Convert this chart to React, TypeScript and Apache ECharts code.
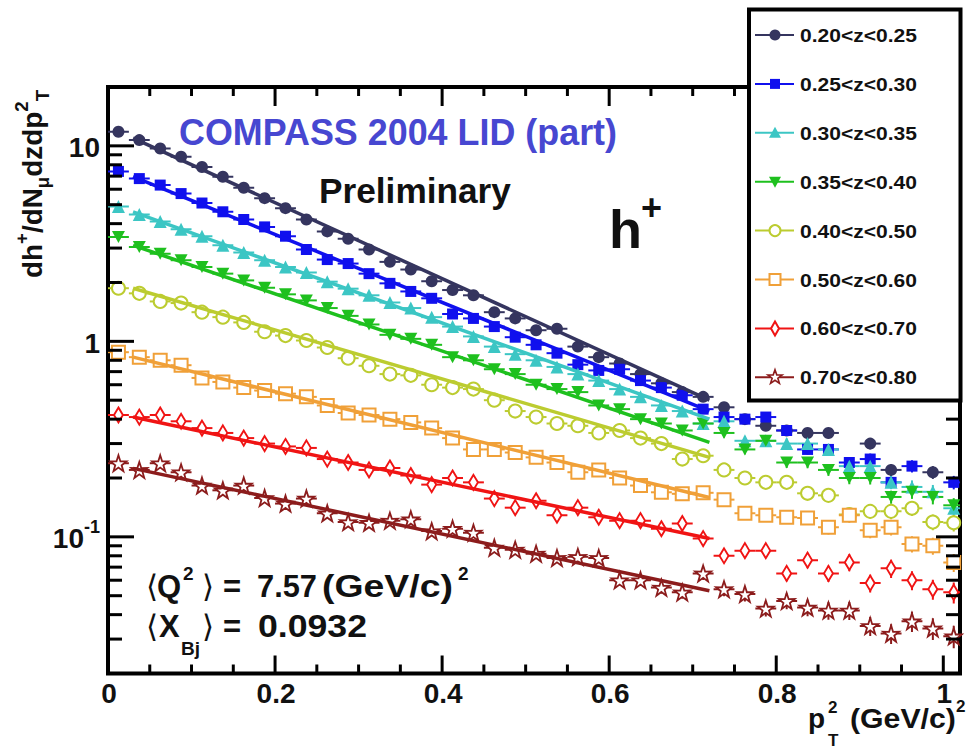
import React, { useEffect, useRef } from 'react';
import * as echarts from 'echarts';

// p_T^2 bin centres in (GeV/c)^2 (bins 0.025 wide)
const binCenters = [
  0.0125, 0.0375, 0.0625, 0.0875, 0.1125, 0.1375, 0.1625, 0.1875, 0.2125, 0.2375,
  0.2625, 0.2875, 0.3125, 0.3375, 0.3625, 0.3875, 0.4125, 0.4375, 0.4625, 0.4875,
  0.5125, 0.5375, 0.5625, 0.5875, 0.6125, 0.6375, 0.6625, 0.6875, 0.7125, 0.7375,
  0.7625, 0.7875, 0.8125, 0.8375, 0.8625, 0.8875, 0.9125, 0.9375, 0.9625, 0.9875, 1.0125,
];
const binHalfWidth = 0.0125;

const zBins = [
  '0.20<z<0.25', '0.25<z<0.30', '0.30<z<0.35', '0.35<z<0.40',
  '0.40<z<0.50', '0.50<z<0.60', '0.60<z<0.70', '0.70<z<0.80',
];
const colors = ['#35355f', '#1010ee', '#3cc6c4', '#1ec01e', '#bccc30', '#f0a038', '#f01414', '#8c1c1c'];

// dh+/dN_mu dz dpT^2 per bin, one array per z bin
const z020 = [11.8, 10.7, 9.7, 8.8, 7.8, 6.95, 6.1, 5.4, 4.8, 4.2, 3.65, 3.35, 2.95, 2.55, 2.33, 2.03, 1.83, 1.72, 1.41, 1.31, 1.14, 1.16, 0.94, 0.83, 0.77, 0.68, 0.61, 0.55, 0.52, 0.46, 0.40, 0.37, 0.35, 0.34, 0.34, null, 0.30, 0.22, null, 0.214, null];
const z025 = [7.4, 6.8, 6.3, 5.7, 5.1, 4.6, 4.2, 3.85, 3.45, 2.95, 2.62, 2.5, 2.22, 1.98, 1.80, 1.66, 1.38, 1.31, 1.19, 1.05, 0.96, 0.87, 0.76, 0.71, 0.72, 0.63, 0.58, 0.53, 0.45, 0.41, 0.40, 0.41, 0.35, 0.28, 0.28, 0.24, 0.25, 0.19, 0.23, null, 0.19];
const z030 = [4.9, 4.45, 4.1, 3.75, 3.45, 3.1, 2.85, 2.6, 2.4, 2.25, 2.02, 1.86, 1.72, 1.58, 1.48, 1.33, 1.19, 1.06, 0.94, 0.86, 0.80, 0.74, 0.68, 0.63, 0.57, 0.52, 0.47, 0.44, 0.38, 0.39, 0.31, 0.31, 0.30, 0.30, 0.28, 0.23, 0.23, 0.19, 0.18, 0.17, 0.14];
const z035 = [3.42, 3.04, 2.81, 2.6, 2.40, 2.22, 2.05, 1.88, 1.74, 1.62, 1.48, 1.35, 1.22, 1.08, 1.03, 0.96, 0.83, 0.80, 0.72, 0.68, 0.60, 0.57, 0.55, 0.47, 0.45, 0.40, 0.38, 0.35, 0.38, 0.34, 0.28, 0.31, 0.24, 0.24, 0.22, 0.20, 0.20, 0.16, 0.17, 0.16, 0.145];
const z040 = [1.87, 1.76, 1.60, 1.57, 1.41, 1.33, 1.25, 1.12, 1.07, 1.01, 0.93, 0.82, 0.75, 0.68, 0.67, 0.60, 0.58, 0.57, 0.50, 0.44, 0.41, 0.38, 0.37, 0.34, 0.35, 0.32, 0.30, 0.25, 0.26, 0.22, 0.20, 0.19, 0.19, 0.167, 0.163, 0.13, 0.135, 0.135, 0.14, 0.119, 0.118];
const z050 = [0.88, 0.83, 0.80, 0.755, 0.65, 0.62, 0.58, 0.56, 0.54, 0.52, 0.47, 0.43, 0.42, 0.40, 0.385, 0.36, 0.32, 0.28, 0.28, 0.27, 0.255, 0.24, 0.214, 0.22, 0.20, 0.183, 0.169, 0.166, 0.168, 0.155, 0.132, 0.129, 0.126, 0.125, 0.112, 0.129, 0.108, 0.112, 0.092, 0.090, 0.074];
const z060 = [0.42, 0.41, 0.42, 0.39, 0.36, 0.34, 0.32, 0.30, 0.29, 0.285, 0.25, 0.24, 0.22, 0.225, 0.206, 0.185, 0.20, 0.19, 0.157, 0.141, 0.153, 0.129, 0.141, 0.126, 0.121, 0.121, 0.11, 0.117, 0.098, 0.080, 0.085, 0.085, 0.065, 0.076, 0.065, 0.074, 0.058, 0.069, 0.060, 0.054, 0.052];
const z070 = [0.238, 0.22, 0.238, 0.214, 0.183, 0.173, 0.183, 0.158, 0.148, 0.157, 0.132, 0.119, 0.118, 0.121, 0.123, 0.107, 0.11, 0.105, 0.088, 0.086, 0.082, 0.078, 0.079, 0.078, 0.060, 0.060, 0.055, 0.052, 0.065, 0.054, 0.051, 0.043, 0.047, 0.0435, 0.042, 0.042, 0.035, 0.032, 0.037, 0.034, 0.031];

// relative statistical error per bin, and per z-bin weight on it
const relErr = [0.015, 0.015, 0.015, 0.015, 0.016, 0.016, 0.017, 0.017, 0.018, 0.019, 0.02, 0.021, 0.022, 0.023, 0.024, 0.025, 0.027, 0.028, 0.03, 0.031, 0.033, 0.035, 0.037, 0.039, 0.041, 0.043, 0.046, 0.048, 0.05, 0.053, 0.056, 0.059, 0.062, 0.065, 0.068, 0.071, 0.074, 0.077, 0.08, 0.084, 0.088];
const errScale = [0.9, 0.9, 1.0, 1.0, 1.1, 1.2, 1.4, 1.5];

// exponential fits, drawn over the fit range
const fitRange = [0.03, 0.72];
const fitStart = [10.96, 6.95, 4.6, 3.1, 1.87, 0.83, 0.41, 0.224];
const fitEnd = [0.50, 0.44, 0.40, 0.304, 0.255, 0.159, 0.098, 0.053];

// axes
const xExtent = [0, 1.02];
const yExtent = [0.02, 20];
const xMajorTicks = [0, 0.2, 0.4, 0.6, 0.8, 1.0];
const xTickLabels = ['0', '0.2', '0.4', '0.6', '0.8', '1'];
const xMinorTicks = [0.05, 0.1, 0.15, 0.25, 0.3, 0.35, 0.45, 0.5, 0.55, 0.65, 0.7, 0.75, 0.85, 0.9, 0.95];
const yMajorTicks = [0.1, 1, 10];
const yTickBase = ['10', '1', '10'];
const yTickExp = ['-1', '', ''];
const yMinorTicks = [0.02, 0.03, 0.04, 0.05, 0.06, 0.07, 0.08, 0.09, 0.2, 0.3, 0.4, 0.5, 0.6, 0.7, 0.8, 0.9, 2, 3, 4, 5, 6, 7, 8, 9];

const seriesValues = [z020, z025, z030, z035, z040, z050, z060, z070];

const FONT = '"Liberation Sans", Arial, Helvetica, sans-serif';
const MATH_FONT = '"DejaVu Sans", "Liberation Sans", sans-serif';
const INK = '#111';

const STAR = 'path://M50,0 L61.8,35.1 L97.6,34.5 L69.1,56.7 L79.4,90.5 L50,70 L20.6,90.5 L30.9,56.7 L2.4,34.5 L38.2,35.1 Z';
const markerStyles: { symbol: string; size: number | number[]; open: boolean; bw: number }[] = [
  { symbol: 'circle', size: 12, open: false, bw: 0 },
  { symbol: 'rect', size: 11, open: false, bw: 0 },
  { symbol: 'triangle', size: 13, open: false, bw: 0 },
  { symbol: 'path://M0,0 L10,0 L5,9 Z', size: [13, 12], open: false, bw: 0 },
  { symbol: 'circle', size: 13, open: true, bw: 2 },
  { symbol: 'rect', size: 13, open: true, bw: 2 },
  { symbol: 'diamond', size: [9, 15], open: true, bw: 2 },
  { symbol: STAR, size: 16, open: true, bw: 1.8 },
];

let measureCtx: CanvasRenderingContext2D | null = null;
function measure(s: string, font: string): number {
  if (!measureCtx) measureCtx = document.createElement('canvas').getContext('2d');
  measureCtx!.font = font;
  return measureCtx!.measureText(s).width;
}

type TxOpts = { color?: string; weight?: string; family?: string; width?: number; align?: string; mid?: number };
function tx(text: string, x: number, baseline: number, size: number, o: TxOpts = {}) {
  const font = `${o.weight ?? 'bold'} ${size}px ${o.family ?? FONT}`;
  const natural = measure(text, font);
  const sx = o.width ? o.width / natural : 1;
  const y = o.mid !== undefined ? o.mid : baseline - 0.3465 * size;
  const align = o.align ?? 'left';
  return {
    type: 'text', x, y, scaleX: sx, z: 50, silent: true,
    style: {
      text, font, fill: o.color ?? INK,
      align, verticalAlign: 'middle', textAlign: align, textVerticalAlign: 'middle',
    },
  };
}

function legendMarker(i: number, cx: number, cy: number): any {
  const c = colors[i];
  const open = { fill: '#fff', stroke: c, lineWidth: 2 };
  switch (i) {
    case 0: return { type: 'circle', shape: { cx, cy, r: 5.5 }, style: { fill: c } };
    case 1: return { type: 'rect', shape: { x: cx - 5, y: cy - 5, width: 10, height: 10 }, style: { fill: c } };
    case 2: return { type: 'polygon', shape: { points: [[cx, cy - 6], [cx + 6, cy + 5], [cx - 6, cy + 5]] }, style: { fill: c } };
    case 3: return { type: 'polygon', shape: { points: [[cx - 6, cy - 5], [cx + 6, cy - 5], [cx, cy + 6]] }, style: { fill: c } };
    case 4: return { type: 'circle', shape: { cx, cy, r: 5.5 }, style: open };
    case 5: return { type: 'rect', shape: { x: cx - 5.5, y: cy - 5.5, width: 11, height: 11 }, style: open };
    case 6: return { type: 'polygon', shape: { points: [[cx, cy - 7], [cx + 4, cy], [cx, cy + 7], [cx - 4, cy]] }, style: open };
    default: {
      const pts: number[][] = [];
      for (let k = 0; k < 10; k++) {
        const r = k % 2 === 0 ? 7.5 : 3;
        const a = -Math.PI / 2 + (k * Math.PI) / 5;
        pts.push([cx + r * Math.cos(a), cy + r * Math.sin(a)]);
      }
      return { type: 'polygon', shape: { points: pts }, style: { fill: '#fff', stroke: c, lineWidth: 1.6 } };
    }
  }
}

function yTitle() {
  const parts = [
    { t: 'dh', s: 27, dy: 0 },
    { t: '+', s: 18, dy: -14 },
    { t: '/dN', s: 27, dy: 0 },
    { t: 'μ', s: 18, dy: 7 },
    { t: 'dzdp', s: 27, dy: 0 },
    { t: '2', s: 18, dy: -14 },
    { t: 'T', s: 18, dy: 7 },
  ];
  let cx = 0;
  const children: any[] = [];
  for (const p of parts) {
    const font = `bold ${p.s}px ${FONT}`;
    children.push({
      type: 'text', x: cx, y: p.dy - 0.3465 * p.s, silent: true,
      style: { text: p.t, font, fill: INK, align: 'left', verticalAlign: 'middle', textAlign: 'left', textVerticalAlign: 'middle' },
    });
    cx += measure(p.t, font);
  }
  return { type: 'group', x: 42, y: 278, rotation: Math.PI / 2, scaleX: 188 / cx, z: 50, silent: true, children };
}

function buildOption(): any {
  const series: any[] = [];

  // tick marks and labels on all four sides of the frame
  series.push({
    type: 'custom', silent: true, z: 5,
    data: [
      ...xMajorTicks.map((v, i) => [v, 1, 1, i]),
      ...xMinorTicks.map((v) => [v, 1, 0, -1]),
    ],
    encode: { x: 0, y: 1 },
    renderItem: (_p: any, api: any) => {
      const v = api.value(0);
      const major = api.value(2) === 1;
      const li = api.value(3);
      const b = api.coord([v, yExtent[0]]);
      const t = api.coord([v, yExtent[1]]);
      const st = { stroke: '#000', lineWidth: 3 };
      const children: any[] = [
        { type: 'line', shape: { x1: b[0], y1: b[1], x2: b[0], y2: b[1] - (major ? 18 : 9) }, style: st },
        { type: 'line', shape: { x1: t[0], y1: t[1], x2: t[0], y2: t[1] + (major ? 19 : 9) }, style: st },
      ];
      if (major && li >= 0) {
        children.push({
          type: 'text', x: b[0] + 1, y: b[1] + 20,
          style: { text: xTickLabels[li], font: `bold 28px ${FONT}`, fill: INK, align: 'center', verticalAlign: 'middle', textAlign: 'center', textVerticalAlign: 'middle' },
        });
      }
      return { type: 'group', children };
    },
  });
  series.push({
    type: 'custom', silent: true, z: 5,
    data: [
      ...yMajorTicks.map((v, i) => [0.5, v, 1, i]),
      ...yMinorTicks.map((v) => [0.5, v, 0, -1]),
    ],
    encode: { x: 0, y: 1 },
    renderItem: (_p: any, api: any) => {
      const v = api.value(1);
      const major = api.value(2) === 1;
      const li = api.value(3);
      const l = api.coord([xExtent[0], v]);
      const r = api.coord([xExtent[1], v]);
      const st = { stroke: '#000', lineWidth: 3 };
      const children: any[] = [
        { type: 'line', shape: { x1: l[0], y1: l[1], x2: l[0] + (major ? 26 : 14), y2: l[1] }, style: st },
        { type: 'line', shape: { x1: r[0], y1: r[1], x2: r[0] - (major ? 24 : 14), y2: r[1] }, style: st },
      ];
      if (major && li >= 0) {
        const right = l[0] - 8;
        const exp = yTickExp[li];
        const expFont = `bold 18px ${FONT}`;
        const expW = exp ? measure(exp, expFont) : 0;
        children.push({
          type: 'text', x: right - expW, y: l[1] + 2,
          style: { text: yTickBase[li], font: `bold 28px ${FONT}`, fill: INK, align: 'right', verticalAlign: 'middle', textAlign: 'right', textVerticalAlign: 'middle' },
        });
        if (exp) {
          children.push({
            type: 'text', x: right - expW, y: l[1] - 10,
            style: { text: exp, font: expFont, fill: INK, align: 'left', verticalAlign: 'middle', textAlign: 'left', textVerticalAlign: 'middle' },
          });
        }
      }
      return { type: 'group', children };
    },
  });

  seriesValues.forEach((vals, i) => {
    const c = colors[i];
    const pts: number[][] = [];
    vals.forEach((v, k) => {
      if (v !== null && v !== undefined) pts.push([binCenters[k], v, relErr[k] * errScale[i]]);
    });
    // error bars: bin width horizontally, statistical error vertically
    series.push({
      type: 'custom', name: zBins[i] + ' errors', silent: true, clip: true,
      data: pts.map(([x, y, e]) => [x, y, y * (1 - e), y * (1 + e)]),
      encode: { x: 0, y: 1 },
      renderItem: (_p: any, api: any) => {
        const x = api.value(0), y = api.value(1), lo = api.value(2), hi = api.value(3);
        const a = api.coord([x - binHalfWidth, y]);
        const b = api.coord([x + binHalfWidth, y]);
        const d0 = api.coord([x, lo]);
        const d1 = api.coord([x, hi]);
        const st = { stroke: c, lineWidth: 2 };
        return {
          type: 'group',
          children: [
            { type: 'line', shape: { x1: a[0], y1: a[1], x2: b[0], y2: b[1] }, style: st },
            { type: 'line', shape: { x1: d0[0], y1: d0[1], x2: d1[0], y2: d1[1] }, style: st },
          ],
        };
      },
    });
    const m = markerStyles[i];
    series.push({
      type: 'scatter', name: zBins[i], silent: true, clip: true,
      symbol: m.symbol, symbolSize: m.size,
      itemStyle: m.open
        ? { color: '#fff', borderColor: c, borderWidth: m.bw, opacity: 1 }
        : { color: c, opacity: 1 },
      data: pts.map(([x, y]) => [x, y]),
    });
    series.push({
      type: 'line', name: zBins[i] + ' fit', silent: true, showSymbol: false, symbol: 'none',
      lineStyle: { color: c, width: 3.5 },
      data: [[fitRange[0], fitStart[i]], [fitRange[1], fitEnd[i]]],
    });
  });

  const graphic: any[] = [];
  // legend box
  graphic.push({
    type: 'rect', z: 40, silent: true,
    shape: { x: 749, y: 9.5, width: 211.5, height: 391 },
    style: { fill: '#fff', stroke: '#000', lineWidth: 4 },
  });
  zBins.forEach((name, i) => {
    const cy = 35 + 48.9 * i;
    graphic.push({ type: 'line', z: 41, silent: true, shape: { x1: 755, y1: cy, x2: 794, y2: cy }, style: { stroke: colors[i], lineWidth: 2 } });
    graphic.push({ ...legendMarker(i, 775, cy), z: 42, silent: true });
    graphic.push(tx(name, 800, cy + 7, 19, { width: 117 }));
  });

  // plot annotations
  graphic.push(tx('COMPASS 2004 LID (part)', 179, 145, 36, { color: '#4747d1', width: 438 }));
  graphic.push(tx('Preliminary', 319, 203, 35, { width: 192 }));
  graphic.push(tx('h', 609, 248, 54));
  graphic.push(tx('+', 641, 220, 36));

  graphic.push(tx('⟨', 146, 0, 31, { family: MATH_FONT, weight: 'normal', mid: 586 }));
  graphic.push(tx('Q', 157, 597, 31));
  graphic.push(tx('2', 183, 580, 19));
  graphic.push(tx('⟩', 202, 0, 31, { family: MATH_FONT, weight: 'normal', mid: 586 }));
  graphic.push(tx('=', 223, 597, 31));
  graphic.push(tx('7.57', 257, 597, 31, { width: 60 }));
  graphic.push(tx('(GeV/c)', 322, 597, 31, { width: 131 }));
  graphic.push(tx('2', 458, 580, 19));

  graphic.push(tx('⟨', 146, 0, 31, { family: MATH_FONT, weight: 'normal', mid: 626 }));
  graphic.push(tx('X', 159, 637, 31));
  graphic.push(tx('Bj', 181, 655, 19));
  graphic.push(tx('⟩', 202, 0, 31, { family: MATH_FONT, weight: 'normal', mid: 626 }));
  graphic.push(tx('=', 223, 637, 31));
  graphic.push(tx('0.0932', 258, 637, 31, { width: 109 }));

  // axis titles
  graphic.push(yTitle());
  graphic.push(tx('p', 808, 728, 28));
  graphic.push(tx('2', 828, 713, 17));
  graphic.push(tx('T', 828, 746, 17));
  graphic.push(tx('(GeV/c)', 850, 728, 28, { width: 106 }));
  graphic.push(tx('2', 956, 712, 17));

  return {
    animation: false,
    backgroundColor: '#fff',
    grid: { left: 108, right: 6, top: 87, bottom: 75.5, show: true, borderColor: '#000', borderWidth: 4, backgroundColor: 'transparent' },
    xAxis: { type: 'value', min: xExtent[0], max: xExtent[1], show: false },
    yAxis: { type: 'log', logBase: 10, min: yExtent[0], max: yExtent[1], show: false },
    series,
    graphic,
  };
}

export default function App() {
  const ref = useRef<HTMLDivElement>(null);
  useEffect(() => {
    if (!ref.current) return;
    const chart = echarts.init(ref.current, undefined, { renderer: 'svg' });
    chart.setOption(buildOption());
    return () => chart.dispose();
  }, []);
  return (
    <div
      ref={ref}
      style={{ position: 'absolute', left: 0, top: 0, width: 966, height: 749, background: '#fff' }}
    />
  );
}
